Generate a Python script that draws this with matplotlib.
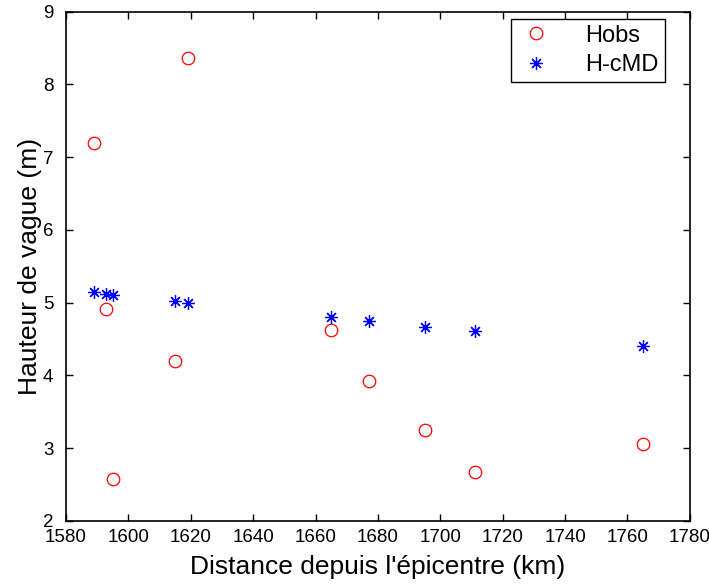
import matplotlib
matplotlib.use("Agg")
import matplotlib.pyplot as plt

plt.rcParams["font.family"] = ["Liberation Sans", "DejaVu Sans"]

distance = [1589, 1593, 1595, 1615, 1619, 1665, 1677, 1695, 1711, 1765]
h_obs = [7.2, 4.92, 2.57, 4.2, 8.36, 4.63, 3.92, 3.25, 2.67, 3.06]
h_cmd = [5.15, 5.12, 5.11, 5.03, 5.0, 4.80, 4.75, 4.67, 4.61, 4.40]

x_ticks = list(range(1580, 1781, 20))
y_ticks = list(range(2, 10))

fig = plt.figure(figsize=(7.09, 5.86), dpi=100)
ax = fig.add_axes([0.093, 0.111, 0.88, 0.869])

ax.plot(distance, h_obs, "o", linestyle="none", markersize=9,
        markerfacecolor="none", markeredgecolor="red", markeredgewidth=0.9,
        label="Hobs")
ax.plot(distance, h_cmd, marker=(8, 2, 0), linestyle="none", markersize=9,
        color="blue", markeredgewidth=0.9, label="H-cMD")

ax.set_xlim(1580, 1780)
ax.set_ylim(2, 9)
ax.set_xticks(x_ticks)
ax.set_yticks(y_ticks)
ax.tick_params(direction="in", length=5, width=1, top=True, right=True,
               labelsize=13.5)
ax.tick_params(axis="x", pad=6)
ax.tick_params(axis="y", pad=9)
for s in ax.spines.values():
    s.set_linewidth(1.2)

ax.set_xlabel("Distance depuis l'épicentre (km)", fontsize=19, labelpad=6)
ax.set_ylabel("Hauteur de vague (m)", fontsize=19, labelpad=1)

leg = ax.legend(loc="upper right", bbox_to_anchor=(0.96, 0.986),
                fontsize=17, fancybox=False, edgecolor="black", framealpha=1,
                borderpad=0.25, labelspacing=0.3, handlelength=1.6,
                handletextpad=1.3, borderaxespad=0)
leg.get_frame().set_linewidth(1.0)

fig.savefig("out.png", dpi=100)
